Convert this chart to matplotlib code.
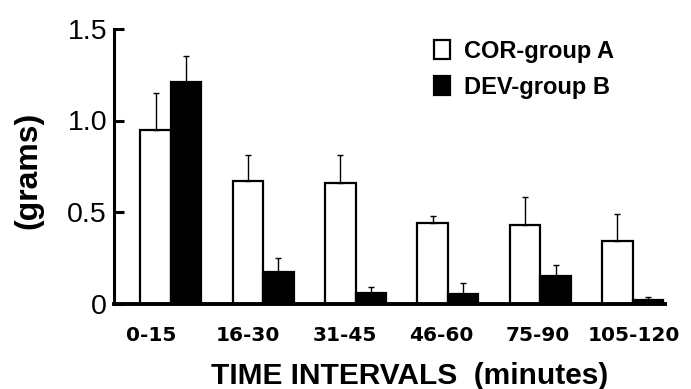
"""
Grams per time interval, two groups, bar chart with upward error bars.
"""

import numpy as np
import matplotlib
matplotlib.use("Agg")
import matplotlib.pyplot as plt

intervals = ["0-15", "16-30", "31-45", "46-60", "75-90", "105-120"]
cor_mean = [0.95, 0.67, 0.66, 0.44, 0.43, 0.34]
cor_err = [0.20, 0.14, 0.15, 0.04, 0.15, 0.15]
dev_mean = [1.21, 0.17, 0.06, 0.05, 0.15, 0.02]
dev_err = [0.14, 0.08, 0.03, 0.06, 0.06, 0.015]


def main():
    plt.rcParams["font.family"] = ["Liberation Sans", "DejaVu Sans"]
    fig = plt.figure(figsize=(6.91, 3.89), dpi=100)
    ax = fig.add_axes([114 / 691, 1 - 303.5 / 389, 551 / 691, 274.5 / 389])

    x = np.arange(len(intervals))
    w = 0.33
    err_kw = dict(elinewidth=1.0, capsize=2, capthick=1.0, ecolor="black")
    zeros = np.zeros(len(x))
    ax.bar(x - w / 2, cor_mean, w, color="white", edgecolor="black",
           linewidth=1.6, yerr=[zeros, cor_err], error_kw=err_kw,
           label="COR-group A", zorder=2)
    ax.bar(x + w / 2, dev_mean, w, color="black", edgecolor="black",
           linewidth=1.6, yerr=[zeros, dev_err], error_kw=err_kw,
           label="DEV-group B", zorder=2)

    ax.set_xlim(-0.616, 5.35)
    ax.set_ylim(0, 1.5)
    ax.set_yticks([0, 0.5, 1.0, 1.5])
    ax.set_yticklabels(["0", "0.5", "1.0", "1.5"])
    ax.set_xticks(x * 1.045 - 0.21)
    ax.set_xticklabels(intervals)

    for side in ["top", "right"]:
        ax.spines[side].set_visible(False)
    ax.spines["left"].set_linewidth(2.2)
    ax.spines["bottom"].set_linewidth(2.8)
    ax.tick_params(axis="y", direction="in", length=7, width=2.2,
                   labelsize=20.5, pad=5)
    ax.tick_params(axis="x", length=0, pad=16)
    for lab in ax.get_xticklabels():
        lab.set_family(["DejaVu Sans"])
        lab.set_fontsize(14.5)
        lab.set_fontweight("bold")

    ax.legend(loc="upper left", bbox_to_anchor=(422 / 691, 1 - 28 / 389),
              bbox_transform=fig.transFigure, frameon=False,
              handlelength=0.7, handleheight=0.85, handletextpad=0.6,
              labelspacing=0.55, borderpad=0,
              prop={"weight": "bold", "size": 17})

    fig.text(28 / 691, 1 - 170 / 389, "(grams)", rotation=90,
             ha="center", va="center", fontsize=23, fontweight="bold")
    fig.text(410 / 691, 1 - 376 / 389, "TIME INTERVALS  (minutes)",
             ha="center", va="center", fontsize=21.5, fontweight="bold")

    fig.savefig("out.png", dpi=100)


if __name__ == "__main__":
    main()
